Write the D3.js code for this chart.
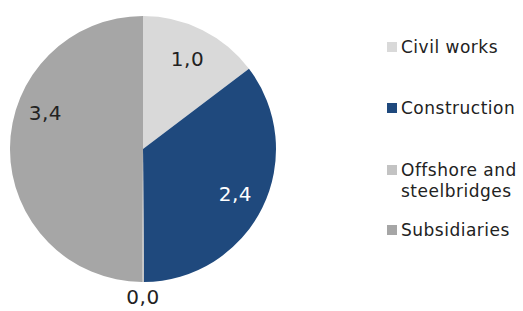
<!DOCTYPE html>
<html>
<head>
<meta charset="utf-8">
<script src="https://cdn.jsdelivr.net/npm/d3@7"></script>
<style>
  body { margin: 0; background: #fff; }
  svg { display: block; font-family: "DejaVu Sans", Verdana, sans-serif; }
</style>
</head>
<body>
<svg id="chart" style="width:523px;height:311px"></svg>
<script>
const categories = ['Civil works', 'Construction', 'Offshore and steelbridges', 'Subsidiaries'];
const values = [1.0, 2.4, 0.015, 3.4];
const labels = ['1,0', '2,4', '0,0', '3,4'];
const legendLines = [['Civil works'], ['Construction'], ['Offshore and', 'steelbridges'], ['Subsidiaries']];
const colors = ['#d9d9d9', '#1f497d', '#c3c3c3', '#a6a6a6'];

const svg = d3.select('#chart');
const cx = 143, cy = 149, radius = 133;

const pie = d3.pie().sort(null).value(d => d);
const arcs = pie(values);
const arc = d3.arc().innerRadius(0).outerRadius(radius);

const g = svg.append('g').attr('transform', 'translate(' + cx + ',' + cy + ')');

g.selectAll('path')
  .data(arcs)
  .enter()
  .append('path')
  .attr('d', arc)
  .attr('fill', (d, i) => colors[i]);

// label placement: inside slices, tiny slice outside
const labelRadius = [100, 103, 148, 104];
const labelShift = [0, 0, 0, 20 * Math.PI / 180];
g.selectAll('text')
  .data(arcs)
  .enter()
  .append('text')
  .attr('x', (d, i) => Math.sin((d.startAngle + d.endAngle) / 2 + labelShift[i]) * labelRadius[i])
  .attr('y', (d, i) => -Math.cos((d.startAngle + d.endAngle) / 2 + labelShift[i]) * labelRadius[i])
  .attr('dy', '0.35em')
  .attr('text-anchor', 'middle')
  .attr('font-size', '20px')
  .attr('letter-spacing', '0.5px')
  .attr('fill', (d, i) => i === 1 ? '#ffffff' : '#222')
  .text((d, i) => labels[i]);

const legendYs = [47, 108, 170, 230];
const legend = svg.append('g');
categories.forEach((c, i) => {
  const item = legend.append('g').attr('transform', 'translate(387,' + legendYs[i] + ')');
  item.append('rect')
    .attr('x', 0).attr('y', -5)
    .attr('width', 10).attr('height', 10)
    .attr('fill', colors[i]);
  item.append('text')
    .attr('x', 14)
    .attr('font-size', '17px')
    .attr('letter-spacing', '0.5px')
    .attr('fill', '#222')
    .selectAll('tspan')
    .data(legendLines[i])
    .enter()
    .append('tspan')
    .attr('x', 14)
    .attr('dy', (d, j) => j === 0 ? '0.35em' : '1.25em')
    .text(d => d);
});
</script>
</body>
</html>
